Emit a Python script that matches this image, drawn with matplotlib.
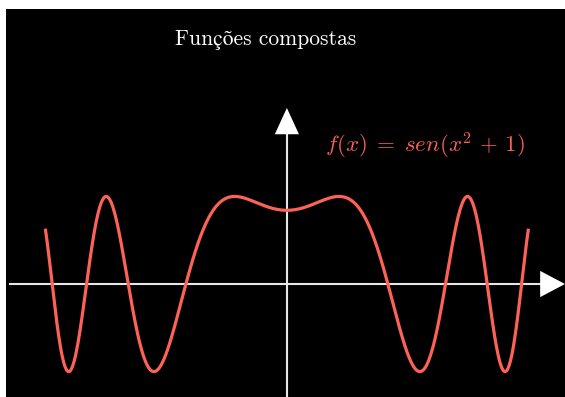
import numpy as np
import matplotlib
matplotlib.use("Agg")
import matplotlib.pyplot as plt

plt.rcParams["mathtext.fontset"] = "cm"

# função exibida no gráfico: f(x) = sen(x^2 + 1)
X_RANGE = [-3.5, 3.5]
N_PTS = 800

BG = "#000000"
AXIS_COLOR = "#e6e6e6"
CURVE_COLOR = "#fc6255"

# limites do plano (eixos estilo manim)
XLIM = (-4.07, 4.03)
YLIM = (-1.29, 3.14)
X_AXIS = (-4.01, 3.67, 4.03)   # início, base da seta, ponta
Y_AXIS = (-1.29, 1.71, 2.01)

fig = plt.figure(figsize=(5.65, 3.97), dpi=100, facecolor="white")
ax = fig.add_axes([6 / 565, 0, 559 / 565, 388 / 397])
ax.set_facecolor(BG)
ax.set_xlim(*XLIM)
ax.set_ylim(*YLIM)
ax.set_xticks([])
ax.set_yticks([])
for s in ax.spines.values():
    s.set_visible(False)

# eixos com setas
hw_y = 0.15   # meia largura da seta do eixo x (unid. y)
hw_x = 0.175  # meia largura da seta do eixo y (unid. x)
ax.plot([X_AXIS[0], X_AXIS[1]], [0, 0], color=AXIS_COLOR, lw=1.5, zorder=2)
ax.fill([X_AXIS[1], X_AXIS[2], X_AXIS[1]], [-hw_y, 0, hw_y],
        color="white", lw=0, zorder=3)
ax.plot([0, 0], [Y_AXIS[0], Y_AXIS[1]], color=AXIS_COLOR, lw=1.5, zorder=2)
ax.fill([-hw_x, 0, hw_x], [Y_AXIS[1], Y_AXIS[2], Y_AXIS[1]],
        color="white", lw=0, zorder=3)

# curva
x = np.linspace(X_RANGE[0], X_RANGE[1], N_PTS)
y = np.sin(x ** 2 + 1)
ax.plot(x, y, color=CURVE_COLOR, lw=2.3, zorder=4, solid_capstyle="butt")

ax.text(0.55, 1.58, r"$f(x)\;=\;sen(x^2\,+\,1)$", color=CURVE_COLOR,
        fontsize=16.5, ha="left", va="center")

fig.text(266 / 565, 1 - 40 / 397, "Funções compostas", color="white",
         fontsize=15.5, ha="center", va="center",
         family=["cmr10", "STIXGeneral"])

fig.savefig("out.png", dpi=100, facecolor="white")
